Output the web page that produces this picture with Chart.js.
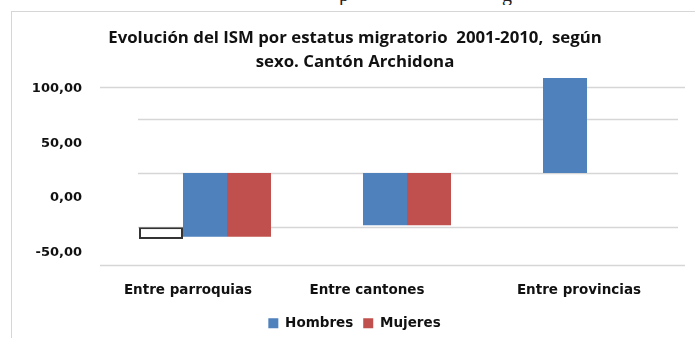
<!DOCTYPE html>
<html>
<head>
<meta charset="utf-8">
<script src="https://cdn.jsdelivr.net/npm/chart.js@4.4.0/dist/chart.umd.min.js"></script>
<style>
  html, body { margin: 0; padding: 0; background: #fff; }
  #wrap { position: relative; width: 695px; height: 338px; overflow: hidden; }
  #frame { position: absolute; left: 11px; top: 11px; right: -10px; bottom: -10px;
           border-top: 1.5px solid #d6d6d6; border-left: 1.5px solid #d6d6d6; }
  #above { position: absolute; left: 0; top: 0; width: 695px; height: 5px; overflow: hidden;
           font-family: 'Liberation Serif', serif; font-size: 20px; color: #222; }
  #above span { position: absolute; top: -17px; }
  canvas { position: absolute; left: 0; top: 0; }
</style>
</head>
<body>
<div id="wrap">
  <div id="above"><span style="left:339px">p</span><span style="left:502px">g</span></div>
  <div id="frame"></div>
  <canvas id="chart" width="695" height="338"></canvas>
</div>
<script>
// ISM por estatus migratorio, Cantón Archidona
const categories = ['Entre parroquias', 'Entre cantones', 'Entre provincias'];
const hombres = [-36.7, -26.3, 108.2];
const mujeres = [-36.7, -26.3, null];
const barBase = 21.4;
const emptyKey = [[-28.1, -38.8], null, null];
const yTicks = [100, 50, 0, -50];
const gridLevels = [100, 70.7, 21.4, -27.8, -62.5];

const titleLines = ['Evolución del ISM por estatus migratorio  2001-2010,  según', 'sexo. Cantón Archidona'];

const labelFont = { family: "'DejaVu Sans', sans-serif", size: 13.5, weight: 'bold' };

// gridlines drawn behind the bars, outer and inner rules with their own extents
const gridPlugin = {
  id: 'ruledGrid',
  beforeDatasetsDraw(chart, args, opts) {
    const { ctx, chartArea: a, scales: { y } } = chart;
    ctx.save();
    ctx.strokeStyle = opts.color;
    ctx.lineWidth = opts.width;
    gridLevels.forEach((v, i) => {
      const outer = i === 0 || i === gridLevels.length - 1;
      const py = Math.round(y.getPixelForValue(v)) + 0.5;
      const x0 = outer ? a.left + opts.outer[0] : a.left + opts.inner[0];
      const x1 = outer ? a.right + opts.outer[1] : a.right + opts.inner[1];
      ctx.beginPath();
      ctx.moveTo(x0, py);
      ctx.lineTo(x1, py);
      ctx.stroke();
    });
    ctx.restore();
  }
};

// category names under the plot
const categoryLabels = {
  id: 'categoryLabels',
  afterDraw(chart, args, opts) {
    const { ctx, chartArea: a, scales: { x } } = chart;
    ctx.save();
    ctx.font = `bold ${labelFont.size}px ${labelFont.family}`;
    ctx.fillStyle = '#111';
    ctx.textAlign = 'center';
    ctx.textBaseline = 'middle';
    categories.forEach((c, i) => {
      ctx.fillText(c, x.getPixelForValue(i) + opts.shift[i], a.bottom + opts.gap);
    });
    ctx.restore();
  }
};

// nudge the legend and title blocks after layout
const blockNudge = {
  id: 'blockNudge',
  afterLayout(chart, args, opts) {
    const lg = chart.legend;
    if (lg) {
      lg.left += opts.legend[0]; lg.right += opts.legend[0];
      lg.top += opts.legend[1]; lg.bottom += opts.legend[1];
      (lg.legendHitBoxes || []).forEach(b => { b.left += opts.legend[0]; b.top += opts.legend[1]; });
    }
    const tb = chart.titleBlock;
    if (tb) { tb.left += opts.title; tb.right += opts.title; }
  }
};

new Chart(document.getElementById('chart'), {
  type: 'bar',
  data: {
    labels: categories,
    datasets: [
      {
        label: '',
        data: emptyKey,
        backgroundColor: '#ffffff',
        borderColor: '#333333',
        borderWidth: 2,
        borderSkipped: false
      },
      {
        label: 'Hombres',
        data: hombres,
        base: barBase,
        backgroundColor: '#4F81BD',
        borderWidth: 0
      },
      {
        label: 'Mujeres',
        data: mujeres,
        base: barBase,
        backgroundColor: '#C0504D',
        borderWidth: 0
      }
    ]
  },
  options: {
    responsive: false,
    animation: false,
    devicePixelRatio: 1,
    categoryPercentage: 0.7333,
    barPercentage: 1,
    layout: { padding: { left: 24, right: 40, top: 0, bottom: 0 } },
    scales: {
      x: {
        type: 'category',
        offset: true,
        grid: { display: false, drawTicks: false },
        border: { display: false },
        ticks: { display: false },
        afterFit(s) { s.height = 39.5; }
      },
      y: {
        type: 'linear',
        min: -62.5,
        max: 110,
        grid: { display: false, drawTicks: false },
        border: { display: false },
        afterBuildTicks(s) { s.ticks = yTicks.map(v => ({ value: v })); },
        afterFit(s) { s.width = 91; },
        ticks: {
          padding: 33,
          labelOffset: 1.5,
          color: '#111',
          font: { family: labelFont.family, size: 13, weight: 'bold' },
          callback: v => v.toFixed(2).replace('.', ',')
        }
      }
    },
    plugins: {
      tooltip: { enabled: false },
      title: {
        display: true,
        text: titleLines,
        color: '#111',
        font: { family: "'Open Sans', sans-serif", size: 16.8, weight: 'bold', lineHeight: 1.43 },
        padding: { top: 26, bottom: 2 }
      },
      legend: {
        position: 'bottom',
        labels: {
          boxWidth: 10,
          boxHeight: 10,
          padding: 10,
          color: '#111',
          font: labelFont,
          filter: item => item.text !== ''
        }
      },
      ruledGrid: { color: '#d6d6d6', width: 1.5, outer: [-15, 30], inner: [23, 23] },
      categoryLabels: { shift: [-17, -18, 14], gap: 25 },
      blockNudge: { legend: [15, 2], title: 15.5 }
    }
  },
  plugins: [gridPlugin, categoryLabels, blockNudge]
});
</script>
</body>
</html>
